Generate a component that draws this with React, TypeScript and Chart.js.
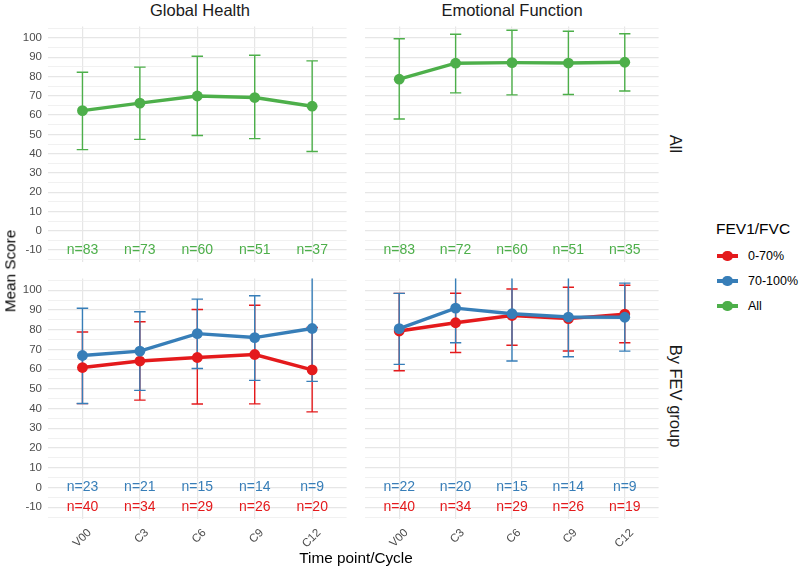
import React, { useEffect, useRef } from "react";
import { Chart, registerables } from "chart.js";

Chart.register(...registerables);

const FONT = '"Liberation Sans", Arial, Helvetica, sans-serif';

// ---- categories / ticks ----
const timepoints = ["V00", "C3", "C6", "C9", "C12"];
const yMajorTicks = [-10, 0, 10, 20, 30, 40, 50, 60, 70, 80, 90, 100];
const yMinorTicks = [-15, -5, 5, 15, 25, 35, 45, 55, 65, 75, 85, 95, 105];
const legendLabels = ["0-70%", "70-100%", "All"];

// ---- Global Health, All ----
const ghAllMean = [62.3, 66.2, 69.9, 69.1, 64.6];
const ghAllLow = [42.1, 47.4, 49.4, 47.8, 41.1];
const ghAllHigh = [82.2, 84.9, 90.5, 91.0, 88.1];
const ghAllN = [83, 73, 60, 51, 37];

// ---- Emotional Function, All ----
const efAllMean = [78.6, 86.9, 87.2, 87.0, 87.4];
const efAllLow = [58.0, 71.5, 70.5, 70.7, 72.5];
const efAllHigh = [99.6, 101.9, 104.0, 103.5, 102.2];
const efAllN = [83, 72, 60, 51, 35];

// ---- Global Health, by FEV group ----
const ghLowMean = [60.8, 64.1, 65.9, 67.4, 59.6];
const ghLowLow = [42.5, 44.3, 42.3, 42.4, 38.3];
const ghLowHigh = [78.8, 84.0, 90.2, 92.4, 81.1];
const ghLowN = [40, 34, 29, 26, 20];
const ghHighMean = [66.9, 69.1, 78.0, 76.0, 80.6];
const ghHighLow = [42.6, 49.2, 60.3, 54.3, 53.8];
const ghHighHigh = [90.9, 89.1, 95.5, 97.2, 108.0];
const ghHighN = [23, 21, 15, 14, 9];

// ---- Emotional Function, by FEV group ----
const efLowMean = [79.3, 83.5, 87.2, 85.6, 87.9];
const efLowLow = [59.2, 68.4, 72.1, 69.2, 73.4];
const efLowHigh = [98.4, 98.5, 100.6, 101.5, 102.5];
const efLowN = [40, 34, 29, 26, 19];
const efHighMean = [80.5, 90.9, 88.1, 86.4, 86.3];
const efHighLow = [62.4, 73.4, 64.1, 66.3, 69.1];
const efHighHigh = [98.4, 108.0, 110.0, 109.0, 103.6];
const efHighN = [22, 20, 15, 14, 9];

const RED = "#E41A1C";
const BLUE = "#377EB8";
const GREEN = "#4DAF4A";
const legendColors = [RED, BLUE, GREEN];

type Series = {
  mean: number[];
  low: number[];
  high: number[];
  n: number[];
  nAt: number;
  color: string;
};

function errorBarPoints(low: number[], high: number[], halfWidth: number) {
  const pts: { x: number; y: number | null }[] = [];
  low.forEach((lo, i) => {
    const hi = high[i];
    pts.push(
      { x: i, y: lo },
      { x: i, y: hi },
      { x: i, y: null },
      { x: i - halfWidth, y: hi },
      { x: i + halfWidth, y: hi },
      { x: i, y: null },
      { x: i - halfWidth, y: lo },
      { x: i + halfWidth, y: lo },
      { x: i, y: null }
    );
  });
  return pts;
}

type PanelProps = {
  left: number;
  top: number;
  width: number;
  height: number;
  showY: boolean;
  showX: boolean;
  series: Series[];
};

function Panel({ left, top, width, height, showY, showX, series }: PanelProps) {
  const ref = useRef<HTMLCanvasElement | null>(null);

  useEffect(() => {
    if (!ref.current) return;
    const datasets: any[] = [];
    const m = series.length;
    series.forEach((s, k) => {
      datasets.push({
        type: "line",
        data: s.mean.map((y, i) => ({ x: i, y })),
        borderColor: s.color,
        backgroundColor: s.color,
        borderWidth: 3.4,
        pointRadius: 5.4,
        pointHoverRadius: 5.4,
        pointBorderWidth: 0,
        tension: 0,
        order: m - k,
      });
      datasets.push({
        type: "line",
        data: errorBarPoints(s.low, s.high, 0.1),
        borderColor: s.color,
        backgroundColor: s.color,
        borderWidth: 1.4,
        pointRadius: 0,
        pointHoverRadius: 0,
        spanGaps: false,
        tension: 0,
        order: 100 + m - k,
      });
    });

    const nPlugin = {
      id: "nLabels",
      afterDatasetsDraw(chart: any) {
        const { ctx } = chart;
        const xs = chart.scales.x;
        const ys = chart.scales.y;
        ctx.save();
        ctx.font = `14px ${FONT}`;
        ctx.textAlign = "center";
        ctx.textBaseline = "middle";
        series.forEach((s) => {
          ctx.fillStyle = s.color;
          s.n.forEach((n, i) => {
            ctx.fillText("n=" + n, xs.getPixelForValue(i), ys.getPixelForValue(s.nAt));
          });
        });
        ctx.restore();
      },
    };

    const isMajor = (v: number) => yMajorTicks.includes(v);

    const chart = new Chart(ref.current, {
      type: "line",
      data: { datasets },
      options: {
        animation: false,
        responsive: false,
        maintainAspectRatio: false,
        devicePixelRatio: window.devicePixelRatio || 1,
        events: [],
        layout: { padding: 0 },
        plugins: {
          legend: { display: false },
          tooltip: { enabled: false },
          title: { display: false },
        },
        scales: {
          x: {
            type: "linear",
            min: -0.6,
            max: 4.6,
            bounds: "data",
            afterBuildTicks: (s: any) => {
              s.ticks = timepoints.map((_, i) => ({ value: i }));
            },
            ticks: {
              display: showX,
              autoSkip: false,
              minRotation: 45,
              maxRotation: 45,
              color: "#4D4D4D",
              font: { size: 11.5, family: FONT },
              padding: 7,
              labelOffset: 7,
              callback: (_v: any, i: number) => timepoints[i],
            },
            grid: { color: "#E6E6E6", lineWidth: 1.2, drawTicks: false },
            border: { display: false },
            afterFit: (s: any) => {
              s.height = showX ? 50 : 0;
              s.paddingLeft = 0;
              s.paddingRight = 0;
            },
          },
          y: {
            type: "linear",
            min: -16,
            max: 106,
            bounds: "data",
            afterBuildTicks: (s: any) => {
              s.ticks = [...yMinorTicks, ...yMajorTicks]
                .sort((a, b) => a - b)
                .map((v) => ({ value: v }));
            },
            ticks: {
              display: showY,
              autoSkip: false,
              color: "#4D4D4D",
              font: { size: 11.5, family: FONT },
              padding: 6,
              callback: (v: any) => (isMajor(Number(v)) ? String(v) : ""),
            },
            grid: {
              color: (c: any) => (c.tick && isMajor(c.tick.value) ? "#E6E6E6" : "#EEEEEE"),
              lineWidth: (c: any) => (c.tick && isMajor(c.tick.value) ? 1.2 : 0.8),
              drawTicks: false,
            },
            border: { display: false },
            afterFit: (s: any) => {
              s.width = showY ? 48 : 0;
              s.paddingTop = 0;
              s.paddingBottom = 0;
            },
          },
        },
      } as any,
      plugins: [nPlugin],
    });
    return () => chart.destroy();
  }, []);

  return (
    <canvas
      ref={ref}
      width={width}
      height={height}
      style={{ position: "absolute", left, top, width, height }}
    />
  );
}

const textBase: React.CSSProperties = {
  position: "absolute",
  whiteSpace: "nowrap",
  lineHeight: 1,
  fontFamily: FONT,
};

export default function App() {
  const topAll: Series[] = [
    { mean: ghAllMean, low: ghAllLow, high: ghAllHigh, n: ghAllN, nAt: -10, color: GREEN },
  ];
  const topEf: Series[] = [
    { mean: efAllMean, low: efAllLow, high: efAllHigh, n: efAllN, nAt: -10, color: GREEN },
  ];
  const botGh: Series[] = [
    { mean: ghLowMean, low: ghLowLow, high: ghLowHigh, n: ghLowN, nAt: -10, color: RED },
    { mean: ghHighMean, low: ghHighLow, high: ghHighHigh, n: ghHighN, nAt: 0, color: BLUE },
  ];
  const botEf: Series[] = [
    { mean: efLowMean, low: efLowLow, high: efLowHigh, n: efLowN, nAt: -10, color: RED },
    { mean: efHighMean, low: efHighLow, high: efHighHigh, n: efHighN, nAt: 0, color: BLUE },
  ];

  const legendY = [256, 281, 306];

  return (
    <div
      style={{
        position: "absolute",
        left: 0,
        top: 0,
        width: 800,
        height: 569,
        background: "#ffffff",
        overflow: "hidden",
        fontFamily: FONT,
      }}
    >
      <Panel left={0} top={21} width={352} height={246} showY={true} showX={false} series={topAll} />
      <Panel left={360} top={21} width={304} height={246} showY={false} showX={false} series={topEf} />
      <Panel left={0} top={273} width={352} height={296} showY={true} showX={true} series={botGh} />
      <Panel left={360} top={273} width={304} height={296} showY={false} showX={true} series={botEf} />

      {/* strip labels */}
      <div style={{ ...textBase, left: 200, top: 10, transform: "translate(-50%,-50%)", fontSize: 16.5, color: "#1A1A1A" }}>
        Global Health
      </div>
      <div style={{ ...textBase, left: 512, top: 10, transform: "translate(-50%,-50%)", fontSize: 16.5, color: "#1A1A1A" }}>
        Emotional Function
      </div>
      <div style={{ ...textBase, left: 676, top: 144, transform: "translate(-50%,-50%) rotate(90deg)", fontSize: 16.5, color: "#1A1A1A" }}>
        All
      </div>
      <div style={{ ...textBase, left: 676, top: 396, transform: "translate(-50%,-50%) rotate(90deg)", fontSize: 16.5, color: "#1A1A1A" }}>
        By FEV group
      </div>

      {/* axis titles */}
      <div style={{ ...textBase, left: 10, top: 271, transform: "translate(-50%,-50%) rotate(-90deg)", fontSize: 15.3, color: "#000" }}>
        Mean Score
      </div>
      <div style={{ ...textBase, left: 356, top: 558, transform: "translate(-50%,-50%)", fontSize: 15.3, color: "#000" }}>
        Time point/Cycle
      </div>

      {/* legend */}
      <div style={{ ...textBase, left: 716, top: 229, transform: "translateY(-50%)", fontSize: 15.5, color: "#000" }}>
        FEV1/FVC
      </div>
      {legendLabels.map((lab, i) => (
        <React.Fragment key={lab}>
          <div
            style={{
              position: "absolute",
              left: 717,
              top: legendY[i] - 1.6,
              width: 21,
              height: 3.2,
              background: legendColors[i],
            }}
          />
          <div
            style={{
              position: "absolute",
              left: 727.5 - 5.4,
              top: legendY[i] - 5.4,
              width: 10.8,
              height: 10.8,
              borderRadius: "50%",
              background: legendColors[i],
            }}
          />
          <div style={{ ...textBase, left: 748, top: legendY[i], transform: "translateY(-50%)", fontSize: 12.5, color: "#000" }}>
            {lab}
          </div>
        </React.Fragment>
      ))}
    </div>
  );
}
